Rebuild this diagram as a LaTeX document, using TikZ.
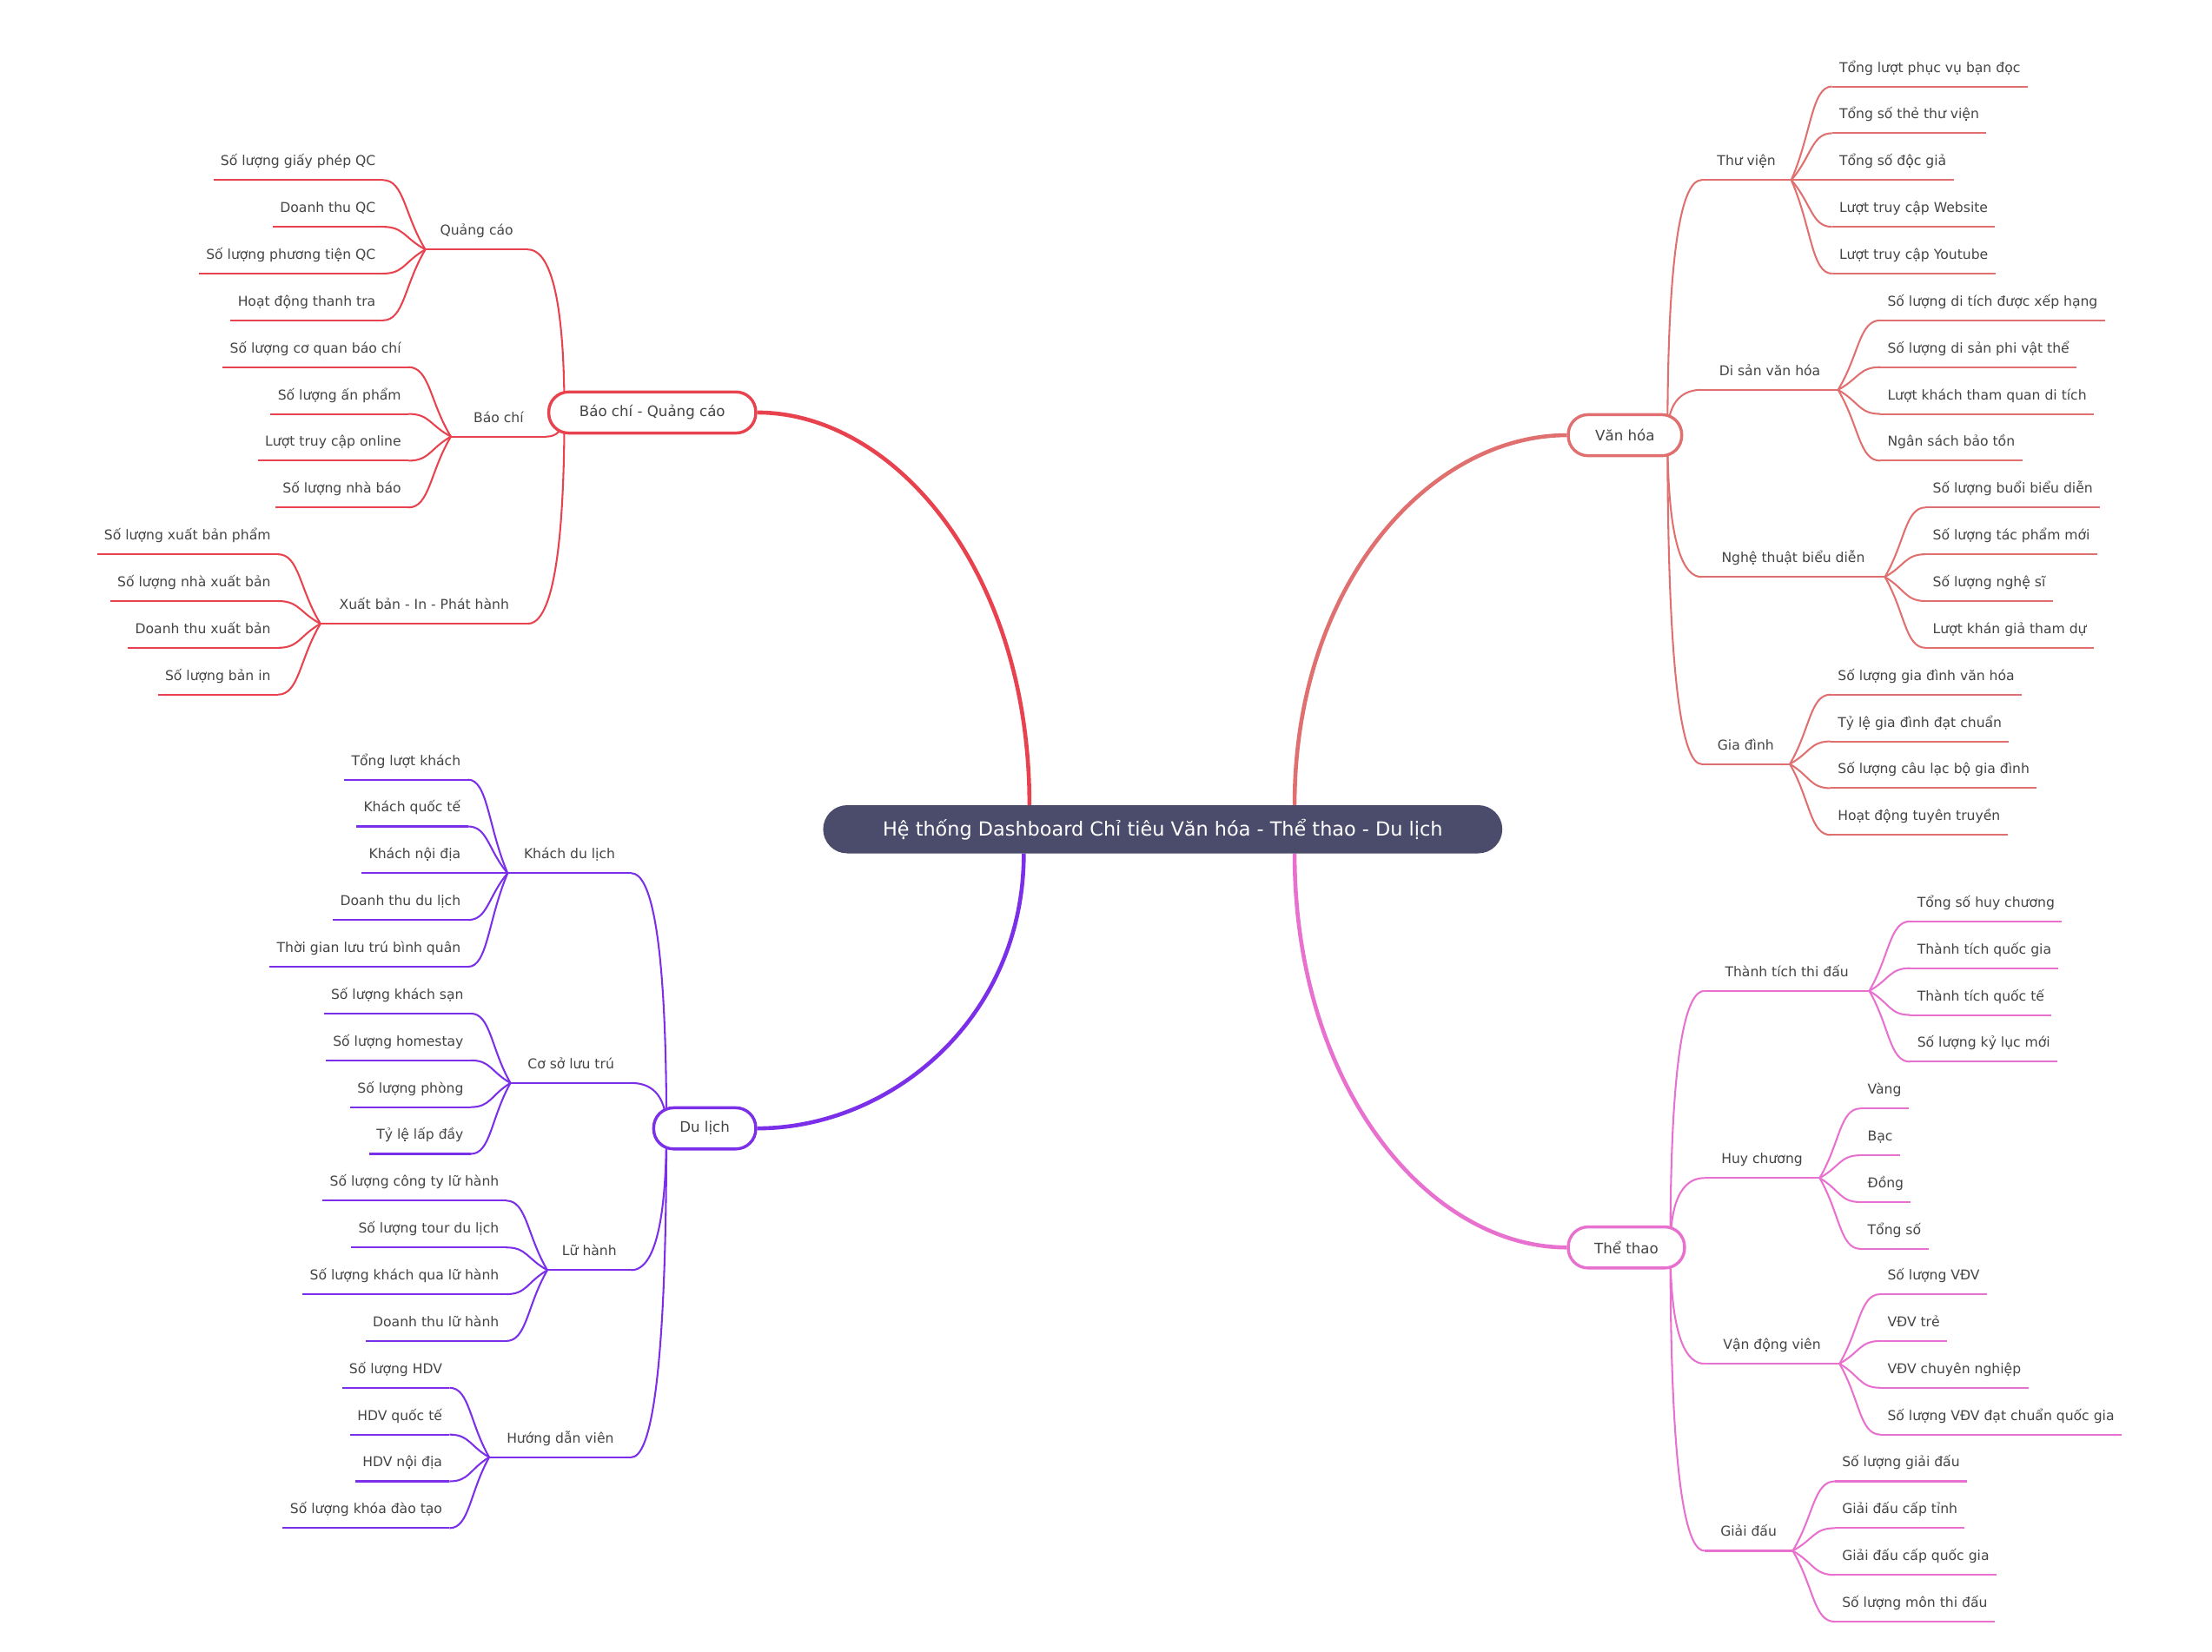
\documentclass[tikz,border=0pt]{standalone}
\usepackage{fontspec}
\setmainfont{DejaVu Sans}
\usetikzlibrary{calc,backgrounds}
\definecolor{cred}{HTML}{E8424F}
\definecolor{cpur}{HTML}{7B2FE8}
\definecolor{csal}{HTML}{E07070}
\definecolor{cpink}{HTML}{E870CF}
\definecolor{cdark}{HTML}{4B4B6B}
\definecolor{ctxt}{HTML}{444444}
\colorlet{brc}{cred}
\tikzset{
  leaf/.style={inner xsep=0.25cm,inner ysep=0.38cm,text height=0.45cm,text depth=0.12cm,text=ctxt,font=\fontsize{13.6}{16}\selectfont},
  sub/.style={leaf,align=center,inner xsep=0pt},
  lc/.style={draw=brc,line width=1.8pt},
  mainc/.style={line width=4pt},
  br/.style={draw=#1,line width=3pt,fill=white,rounded corners=0.7cm,minimum height=1.45cm,text=ctxt,font=\fontsize{14.5}{17}\selectfont},
}
\newcommand{\myLL}[5]{\node[leaf,anchor=south east] (#1) at (#3,#4) {#5};
 \draw[lc] (#1.south west) -- (#1.south east);
 \begin{pgfonlayer}{background}\draw[lc] (#2) .. controls ($(#2)!0.5!(#1.south east)$) and ($(#1.south east)!0.5!(#2|-#1.south east)$) .. (#1.south east);\end{pgfonlayer}}
\newcommand{\myRL}[5]{\node[leaf,anchor=south west] (#1) at (#3,#4) {#5};
 \draw[lc] (#1.south west) -- (#1.south east);
 \begin{pgfonlayer}{background}\draw[lc] (#2) .. controls ($(#2)!0.5!(#1.south west)$) and ($(#1.south west)!0.5!(#2|-#1.south west)$) .. (#1.south west);\end{pgfonlayer}}
\newcommand{\mySL}[6]{\node[sub,anchor=south west,minimum width={(#4-#3)*0.05cm}] (#1) at (#3,#5) {#6};
 \draw[lc] (#1.south west) -- (#1.south east);
 \coordinate (#1j) at (#1.south west);
 \begin{pgfonlayer}{background}\draw[lc] (#2) .. controls ($(#2)!0.8!(#2|-#1.south east)$) and ($(#1.south east)!0.5!(#2|-#1.south east)$) .. (#1.south east);\end{pgfonlayer}}
\newcommand{\mySR}[6]{\node[sub,anchor=south west,minimum width={(#4-#3)*0.05cm}] (#1) at (#3,#5) {#6};
 \draw[lc] (#1.south west) -- (#1.south east);
 \coordinate (#1j) at (#1.south east);
 \begin{pgfonlayer}{background}\draw[lc] (#2) .. controls ($(#2)!0.8!(#2|-#1.south west)$) and ($(#1.south west)!0.5!(#2|-#1.south west)$) .. (#1.south west);\end{pgfonlayer}}
\begin{document}
\begin{tikzpicture}[x=0.05cm,y=-0.05cm]
\useasboundingbox (0,0) rectangle (1560,1165);
\node[fill=cdark,text=white,rounded corners=0.85cm,minimum width=23.95cm,minimum height=1.7cm,font=\fontsize{19.5}{24}\selectfont] (c) at (820,585) {Hệ thống Dashboard Chỉ tiêu Văn hóa - Thể thao - Du lịch};
\node[br=cred,minimum width=7.3cm] (bq) at (460,291) {Báo chí - Quảng cáo};
\node[br=cpur,minimum width=3.6cm] (dl) at (497,796) {Du lịch};
\node[br=csal,minimum width=4cm] (vh) at (1146,307) {Văn hóa};
\node[br=cpink,minimum width=4.1cm] (tt) at (1147,880) {Thể thao};
\coordinate (c1) at ([xshift=-4.7cm]c.north);
\coordinate (c2) at ([xshift=-4.9cm]c.south);
\coordinate (c3) at ([xshift=4.65cm]c.north);
\coordinate (c4) at ([xshift=4.65cm]c.south);
\begin{pgfonlayer}{background}
\draw[mainc,cred] (c1) .. controls ($(c1)!0.6!(c1|-bq.east)$) and ($(bq.east)!0.5!(c1|-bq.east)$) .. (bq.east);
\draw[mainc,cpur] (c2) .. controls ($(c2)!0.6!(c2|-dl.east)$) and ($(dl.east)!0.5!(c2|-dl.east)$) .. (dl.east);
\draw[mainc,csal] (c3) .. controls ($(c3)!0.6!(c3|-vh.west)$) and ($(vh.west)!0.5!(c3|-vh.west)$) .. (vh.west);
\draw[mainc,cpink] (c4) .. controls ($(c4)!0.6!(c4|-tt.west)$) and ($(tt.west)!0.5!(c4|-tt.west)$) .. (tt.west);
\end{pgfonlayer}
\colorlet{brc}{cred}
\coordinate (pbq) at ([xshift=-3.1cm]bq.center);
\mySL{qc}{pbq}{300}{372}{176}{Quảng cáo}
\mySL{bc}{pbq}{318}{385}{308}{Báo chí}
\mySL{xb}{pbq}{226}{372}{440}{Xuất bản - In - Phát hành}
\myLL{qc1}{qcj}{270}{127}{Số lượng giấy phép QC}
\myLL{qc2}{qcj}{270}{160}{Doanh thu QC}
\myLL{qc3}{qcj}{270}{193}{Số lượng phương tiện QC}
\myLL{qc4}{qcj}{270}{226}{Hoạt động thanh tra}
\myLL{bc1}{bcj}{288}{259}{Số lượng cơ quan báo chí}
\myLL{bc2}{bcj}{288}{292}{Số lượng ấn phẩm}
\myLL{bc3}{bcj}{288}{325}{Lượt truy cập online}
\myLL{bc4}{bcj}{288}{358}{Số lượng nhà báo}
\myLL{xb1}{xbj}{196}{391}{Số lượng xuất bản phẩm}
\myLL{xb2}{xbj}{196}{424}{Số lượng nhà xuất bản}
\myLL{xb3}{xbj}{196}{457}{Doanh thu xuất bản}
\myLL{xb4}{xbj}{196}{490}{Số lượng bản in}
\colorlet{brc}{cpur}
\coordinate (pdl) at ([xshift=-1.35cm]dl.center);
\mySL{kd}{pdl}{358}{445}{616}{Khách du lịch}
\mySL{cs}{pdl}{360}{445}{764}{Cơ sở lưu trú}
\mySL{lh}{pdl}{386}{445}{896}{Lữ hành}
\mySL{hd}{pdl}{345}{445}{1028}{Hướng dẫn viên}
\myLL{kd1}{kdj}{330}{550}{Tổng lượt khách}
\myLL{kd2}{kdj}{330}{583}{Khách quốc tế}
\myLL{kd3}{kdj}{330}{616}{Khách nội địa}
\myLL{kd4}{kdj}{330}{649}{Doanh thu du lịch}
\myLL{kd5}{kdj}{330}{682}{Thời gian lưu trú bình quân}
\myLL{cs1}{csj}{332}{715}{Số lượng khách sạn}
\myLL{cs2}{csj}{332}{748}{Số lượng homestay}
\myLL{cs3}{csj}{332}{781}{Số lượng phòng}
\myLL{cs4}{csj}{332}{814}{Tỷ lệ lấp đầy}
\myLL{lh1}{lhj}{357}{847}{Số lượng công ty lữ hành}
\myLL{lh2}{lhj}{357}{880}{Số lượng tour du lịch}
\myLL{lh3}{lhj}{357}{913}{Số lượng khách qua lữ hành}
\myLL{lh4}{lhj}{357}{946}{Doanh thu lữ hành}
\myLL{hd1}{hdj}{317}{979}{Số lượng HDV}
\myLL{hd2}{hdj}{317}{1012}{HDV quốc tế}
\myLL{hd3}{hdj}{317}{1045}{HDV nội địa}
\myLL{hd4}{hdj}{317}{1078}{Số lượng khóa đào tạo}
\colorlet{brc}{csal}
\coordinate (pvh) at ([xshift=1.5cm]vh.center);
\mySR{tv}{pvh}{1200}{1263}{127}{Thư viện}
\mySR{ds}{pvh}{1200}{1296}{275}{Di sản văn hóa}
\mySR{nt}{pvh}{1200}{1329}{407}{Nghệ thuật biểu diễn}
\mySR{gd}{pvh}{1200}{1262}{539}{Gia đình}
\myRL{tv1}{tvj}{1292}{61}{Tổng lượt phục vụ bạn đọc}
\myRL{tv2}{tvj}{1292}{94}{Tổng số thẻ thư viện}
\myRL{tv3}{tvj}{1292}{127}{Tổng số độc giả}
\myRL{tv4}{tvj}{1292}{160}{Lượt truy cập Website}
\myRL{tv5}{tvj}{1292}{193}{Lượt truy cập Youtube}
\myRL{ds1}{dsj}{1326}{226}{Số lượng di tích được xếp hạng}
\myRL{ds2}{dsj}{1326}{259}{Số lượng di sản phi vật thể}
\myRL{ds3}{dsj}{1326}{292}{Lượt khách tham quan di tích}
\myRL{ds4}{dsj}{1326}{325}{Ngân sách bảo tồn}
\myRL{nt1}{ntj}{1358}{358}{Số lượng buổi biểu diễn}
\myRL{nt2}{ntj}{1358}{391}{Số lượng tác phẩm mới}
\myRL{nt3}{ntj}{1358}{424}{Số lượng nghệ sĩ}
\myRL{nt4}{ntj}{1358}{457}{Lượt khán giả tham dự}
\myRL{gd1}{gdj}{1291}{490}{Số lượng gia đình văn hóa}
\myRL{gd2}{gdj}{1291}{523}{Tỷ lệ gia đình đạt chuẩn}
\myRL{gd3}{gdj}{1291}{556}{Số lượng câu lạc bộ gia đình}
\myRL{gd4}{gdj}{1291}{589}{Hoạt động tuyên truyền}
\colorlet{brc}{cpink}
\coordinate (ptt) at ([xshift=1.55cm]tt.center);
\mySR{th}{ptt}{1202}{1318}{699}{Thành tích thi đấu}
\mySR{hc}{ptt}{1202}{1283}{831}{Huy chương}
\mySR{vd}{ptt}{1202}{1297}{962}{Vận động viên}
\mySR{gi}{ptt}{1202}{1264}{1094}{Giải đấu}
\myRL{th1}{thj}{1347}{650}{Tổng số huy chương}
\myRL{th2}{thj}{1347}{683}{Thành tích quốc gia}
\myRL{th3}{thj}{1347}{716}{Thành tích quốc tế}
\myRL{th4}{thj}{1347}{749}{Số lượng kỷ lục mới}
\myRL{hc1}{hcj}{1312}{782}{Vàng}
\myRL{hc2}{hcj}{1312}{815}{Bạc}
\myRL{hc3}{hcj}{1312}{848}{Đồng}
\myRL{hc4}{hcj}{1312}{881}{Tổng số}
\myRL{vd1}{vdj}{1326}{913}{Số lượng VĐV}
\myRL{vd2}{vdj}{1326}{946}{VĐV trẻ}
\myRL{vd3}{vdj}{1326}{979}{VĐV chuyên nghiệp}
\myRL{vd4}{vdj}{1326}{1012}{Số lượng VĐV đạt chuẩn quốc gia}
\myRL{gi1}{gij}{1294}{1045}{Số lượng giải đấu}
\myRL{gi2}{gij}{1294}{1078}{Giải đấu cấp tỉnh}
\myRL{gi3}{gij}{1294}{1111}{Giải đấu cấp quốc gia}
\myRL{gi4}{gij}{1294}{1144}{Số lượng môn thi đấu}
\end{tikzpicture}
\end{document}
